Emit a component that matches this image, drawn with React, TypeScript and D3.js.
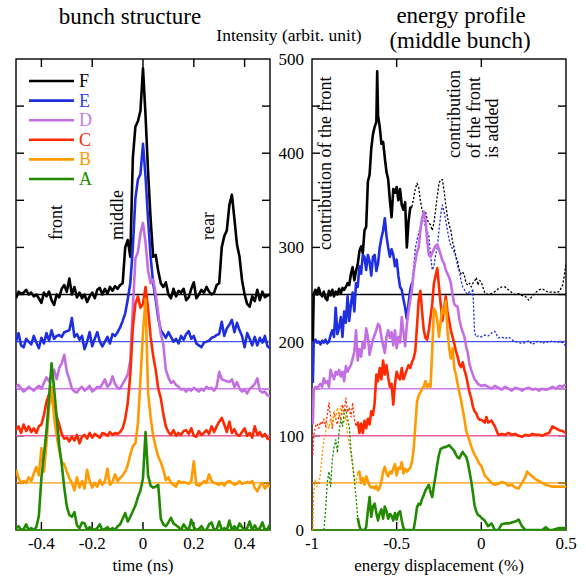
import React from 'react';
import * as d3 from 'd3';

// ---------- data ----------
const seriesNames = ['F', 'E', 'D', 'C', 'B', 'A'];
const seriesColors = ['#000000', '#1f2fe0', '#c46ee4', '#ff2a00', '#ff9a00', '#228a00'];
const legendColors = ['#000000', '#3340ee', '#c878ee', '#ff2a00', '#ff9a00', '#228a00'];
const baselineValues = [250, 200, 150, 100, 50, 0];
const baselineColors = ['#000000', '#4455ee', '#cc80ec', '#ee5fa0', '#ff9a00', '#33a000'];

// bunch structure: time grid (ns), -0.5 .. 0.5 step 0.01
const timeGrid = d3.range(101).map((i) => Math.round((-0.5 + i * 0.01) * 1000) / 1000);

const bunchF = [246, 253, 251, 252, 255, 250, 252, 248, 250, 246, 241, 252, 248, 253, 244, 239, 250, 247, 256, 260,
  253, 267, 250, 258, 247, 252, 246, 250, 242, 248, 252, 246, 255, 257, 250, 256, 251, 258, 254, 259,
  256, 260, 262, 300, 308, 290, 395, 428, 434, 445, 490, 440, 380, 330, 290, 292, 275, 262, 258, 263,
  250, 246, 256, 248, 254, 252, 256, 244, 247, 256, 263, 246, 250, 255, 252, 258, 253, 250, 252, 260,
  262, 300, 312, 318, 345, 356, 330, 303, 290, 265, 250, 240, 237, 248, 243, 255, 244, 253, 247, 249, 250];
const bunchE = [200, 209, 196, 194, 203, 200, 197, 206, 199, 193, 204, 198, 209, 201, 212, 203, 206, 207, 205, 210,
  211, 212, 225, 205, 208, 202, 206, 192, 200, 210, 195, 203, 210, 200, 195, 200, 205, 198, 208, 206,
  210, 215, 222, 230, 245, 262, 300, 352, 372, 378, 410, 375, 330, 290, 262, 245, 225, 212, 208, 204,
  210, 205, 200, 203, 198, 206, 202, 208, 211, 203, 206, 198, 196, 194, 199, 200, 201, 204, 205, 207,
  208, 221, 206, 214, 218, 223, 210, 220, 212, 206, 194, 209, 203, 196, 205, 196, 204, 199, 206, 195, 193];
const bunchD = [152, 154, 150, 147, 149, 152, 150, 148, 151, 153, 150, 156, 162, 158, 166, 170, 160, 172, 177, 186,
  168, 160, 150, 147, 146, 150, 152, 148, 150, 153, 147, 149, 152, 151, 155, 160, 152, 155, 163, 155,
  151, 150, 155, 160, 165, 180, 235, 288, 295, 315, 326, 305, 275, 262, 266, 250, 230, 208, 197, 170,
  162, 156, 158, 154, 152, 149, 150, 147, 150, 148, 151, 149, 147, 150, 148, 152, 150, 151, 148, 152,
  168, 160, 159, 158, 157, 160, 152, 157, 150, 147, 149, 145, 150, 152, 155, 161, 148, 146, 147, 143, 142];
const bunchC = [106, 110, 103, 112, 105, 110, 104, 108, 103, 110, 112, 122, 136, 144, 140, 130, 121, 112, 102, 97,
  98, 94, 99, 95, 101, 92, 99, 101, 97, 103, 98, 102, 100, 98, 103, 102, 100, 104, 101, 103,
  102, 104, 108, 118, 135, 165, 215, 240, 248, 236, 240, 258, 235, 205, 185, 170, 150, 140, 123, 110,
  104, 101, 106, 100, 103, 101, 105, 106, 102, 108, 100, 99, 105, 101, 103, 106, 102, 110, 104, 110,
  115, 119, 112, 104, 115, 103, 107, 101, 100, 104, 108, 100, 103, 98, 110, 101, 104, 99, 102, 97, 96];
const bunchB = [64, 55, 50, 52, 50, 56, 52, 60, 67, 58, 87, 62, 92, 130, 152, 120, 100, 85, 72, 70,
  62, 55, 50, 42, 56, 45, 52, 44, 64, 52, 45, 50, 46, 53, 48, 52, 65, 48, 51, 59,
  52, 55, 58, 62, 69, 80, 89, 92, 113, 160, 210, 245, 145, 120, 100, 88, 78, 72, 64, 53,
  56, 50, 48, 46, 52, 50, 51, 50, 49, 52, 73, 48, 47, 49, 52, 50, 59, 52, 50, 49,
  48, 50, 47, 51, 52, 50, 48, 49, 52, 49, 50, 51, 50, 52, 45, 41, 47, 50, 44, 48, 46];
const bunchA = [2, 4, 0, 1, 6, 0, 2, 0, 3, 15, 55, 80, 105, 140, 177, 150, 120, 90, 70, 45,
  25, 16, 14, 19, 5, 2, 8, 7, 0, 3, 1, 0, 2, 6, 0, 1, 3, 0, 2, 0,
  4, 6, 12, 18, 9, 14, 20, 26, 35, 42, 55, 104, 58, 47, 45, 46, 48, 12, 6, 4,
  8, 13, 7, 5, 3, 0, 6, 2, 0, 11, 3, 0, 1, 4, 0, 0, 6, 8, 0, 1,
  9, 0, 2, 0, 10, 0, 4, 0, 7, 3, 0, 2, 9, 0, 5, 0, 2, 8, 0, 1, 6];

// energy profile (energy displacement %, intensity) – solid: measured, dotted: front contribution added
const profileF: [number, number][] = [[-0.995, 200], [-0.99, 250], [-0.98, 255], [-0.97, 250], [-0.96, 257], [-0.95, 251], [-0.94, 248],
  [-0.93, 253], [-0.92, 246], [-0.91, 244], [-0.9, 254], [-0.89, 249], [-0.88, 255], [-0.87, 248], [-0.86, 253], [-0.85, 250],
  [-0.84, 256], [-0.83, 251], [-0.82, 257], [-0.81, 255], [-0.8, 258], [-0.79, 262], [-0.78, 260], [-0.77, 272], [-0.76, 279],
  [-0.75, 265], [-0.74, 275], [-0.73, 282], [-0.72, 296], [-0.71, 301], [-0.7, 294], [-0.69, 318], [-0.68, 322], [-0.67, 370],
  [-0.66, 377], [-0.65, 405], [-0.64, 420], [-0.63, 428], [-0.62, 433], [-0.615, 487], [-0.61, 440], [-0.6, 428], [-0.59, 410],
  [-0.58, 412], [-0.57, 395], [-0.56, 380], [-0.55, 372], [-0.54, 350], [-0.53, 332], [-0.52, 362], [-0.51, 358], [-0.5, 364],
  [-0.49, 350], [-0.48, 362], [-0.47, 345], [-0.46, 340], [-0.45, 348], [-0.44, 300], [-0.43, 327], [-0.42, 342], [-0.41, 343]];
const profileFAdded: [number, number][] = [[-0.41, 343], [-0.4, 352], [-0.39, 362], [-0.38, 368], [-0.37, 364], [-0.36, 350],
  [-0.35, 340], [-0.34, 335], [-0.33, 338], [-0.32, 330], [-0.31, 326], [-0.3, 324], [-0.29, 318], [-0.28, 326], [-0.27, 340],
  [-0.26, 355], [-0.25, 368], [-0.24, 372], [-0.23, 372], [-0.22, 360], [-0.21, 345], [-0.2, 332], [-0.19, 324], [-0.18, 318],
  [-0.17, 306], [-0.16, 299], [-0.15, 290], [-0.14, 285], [-0.13, 276], [-0.12, 272], [-0.11, 274], [-0.1, 270], [-0.09, 262],
  [-0.08, 260], [-0.07, 262], [-0.06, 258], [-0.05, 262], [-0.04, 264], [-0.03, 268], [-0.02, 260], [-0.01, 265], [0, 263],
  [0.02, 252], [0.04, 250], [0.06, 251], [0.08, 253], [0.1, 256], [0.12, 258], [0.14, 258], [0.16, 255], [0.18, 252], [0.2, 250],
  [0.22, 251], [0.24, 249], [0.26, 248], [0.28, 244], [0.3, 248], [0.32, 252], [0.34, 255], [0.36, 256], [0.38, 254], [0.4, 252],
  [0.42, 253], [0.44, 252], [0.46, 253], [0.48, 260], [0.49, 270], [0.5, 283]];
const profileE: [number, number][] = [[-0.995, 156], [-0.99, 198], [-0.98, 202], [-0.97, 199], [-0.96, 200], [-0.95, 197], [-0.94, 201],
  [-0.93, 199], [-0.92, 202], [-0.91, 198], [-0.9, 200], [-0.89, 207], [-0.88, 212], [-0.87, 205], [-0.86, 236], [-0.85, 208],
  [-0.84, 215], [-0.83, 226], [-0.82, 205], [-0.81, 232], [-0.8, 220], [-0.79, 248], [-0.78, 222], [-0.77, 240], [-0.76, 252],
  [-0.75, 232], [-0.74, 262], [-0.73, 258], [-0.72, 280], [-0.71, 272], [-0.7, 292], [-0.69, 290], [-0.68, 276], [-0.67, 292],
  [-0.66, 285], [-0.65, 270], [-0.64, 290], [-0.63, 292], [-0.62, 275], [-0.61, 283], [-0.6, 300], [-0.59, 310], [-0.58, 318],
  [-0.57, 331], [-0.56, 312], [-0.55, 300], [-0.54, 290], [-0.53, 298], [-0.52, 292], [-0.51, 280], [-0.5, 287], [-0.49, 270],
  [-0.48, 258], [-0.47, 255], [-0.46, 245], [-0.45, 236], [-0.44, 224], [-0.43, 240], [-0.42, 255], [-0.41, 262]];
const profileEAdded: [number, number][] = [[-0.41, 262], [-0.4, 278], [-0.39, 299], [-0.38, 308], [-0.37, 315], [-0.36, 322],
  [-0.35, 333], [-0.34, 330], [-0.33, 322], [-0.32, 318], [-0.31, 312], [-0.3, 292], [-0.29, 276], [-0.28, 280], [-0.27, 292],
  [-0.26, 300], [-0.25, 318], [-0.24, 335], [-0.23, 345], [-0.22, 338], [-0.21, 328], [-0.2, 318], [-0.19, 308], [-0.18, 302],
  [-0.17, 298], [-0.16, 295], [-0.15, 290], [-0.14, 280], [-0.13, 275], [-0.12, 265], [-0.11, 258], [-0.1, 255], [-0.09, 252],
  [-0.08, 250], [-0.07, 253], [-0.06, 250], [-0.05, 256], [-0.04, 210], [-0.03, 205], [-0.02, 206], [0, 205], [0.02, 207],
  [0.04, 206], [0.06, 209], [0.08, 211], [0.1, 204], [0.12, 205], [0.14, 203], [0.16, 205], [0.18, 202], [0.2, 200], [0.22, 199],
  [0.24, 198], [0.26, 199], [0.28, 201], [0.3, 197], [0.32, 199], [0.34, 201], [0.36, 198], [0.38, 200], [0.4, 199], [0.42, 201],
  [0.44, 199], [0.46, 200], [0.48, 199], [0.5, 195]];
const profileD: [number, number][] = [[-0.995, 112], [-0.99, 149], [-0.98, 152], [-0.97, 150], [-0.96, 153], [-0.95, 155], [-0.94, 152],
  [-0.93, 161], [-0.92, 156], [-0.91, 158], [-0.9, 152], [-0.89, 170], [-0.88, 164], [-0.87, 160], [-0.86, 168], [-0.85, 165],
  [-0.84, 170], [-0.83, 163], [-0.82, 168], [-0.81, 158], [-0.8, 174], [-0.79, 168], [-0.78, 172], [-0.77, 175], [-0.76, 182],
  [-0.75, 189], [-0.74, 212], [-0.73, 180], [-0.72, 192], [-0.71, 184], [-0.7, 200], [-0.69, 193], [-0.68, 214], [-0.67, 205],
  [-0.66, 186], [-0.65, 195], [-0.64, 202], [-0.63, 207], [-0.62, 212], [-0.61, 219], [-0.6, 216], [-0.59, 205], [-0.58, 196],
  [-0.57, 188], [-0.56, 205], [-0.55, 212], [-0.54, 204], [-0.53, 210], [-0.52, 196], [-0.51, 212], [-0.5, 193], [-0.49, 205],
  [-0.48, 199], [-0.47, 226], [-0.46, 210], [-0.45, 195], [-0.44, 218], [-0.43, 232], [-0.42, 244], [-0.41, 255], [-0.4, 273],
  [-0.39, 285], [-0.38, 295], [-0.37, 300], [-0.36, 318], [-0.35, 330], [-0.34, 338], [-0.33, 330], [-0.32, 308], [-0.31, 292],
  [-0.3, 290], [-0.29, 294], [-0.28, 298], [-0.27, 302], [-0.26, 303], [-0.25, 298], [-0.24, 292], [-0.23, 286], [-0.22, 283],
  [-0.21, 276], [-0.2, 272], [-0.19, 268], [-0.18, 262], [-0.17, 250], [-0.16, 240], [-0.15, 238], [-0.14, 237], [-0.13, 224],
  [-0.12, 216], [-0.11, 210], [-0.1, 205], [-0.09, 195], [-0.08, 188], [-0.07, 176], [-0.06, 170], [-0.05, 165], [-0.04, 160],
  [-0.03, 158], [-0.02, 155], [0, 153], [0.02, 154], [0.04, 152], [0.06, 150], [0.08, 153], [0.1, 151], [0.12, 149], [0.14, 152],
  [0.16, 150], [0.18, 148], [0.2, 151], [0.22, 150], [0.24, 148], [0.26, 150], [0.28, 151], [0.3, 149], [0.32, 150], [0.34, 148],
  [0.36, 150], [0.38, 149], [0.4, 150], [0.42, 152], [0.44, 150], [0.46, 153], [0.48, 152], [0.5, 155]];
const profileCAdded: [number, number][] = [[-0.995, 80], [-0.99, 100], [-0.98, 110], [-0.97, 113], [-0.96, 108], [-0.95, 115],
  [-0.94, 112], [-0.93, 118], [-0.92, 110], [-0.91, 122], [-0.9, 135], [-0.89, 120], [-0.88, 108], [-0.87, 125], [-0.86, 118],
  [-0.85, 112], [-0.84, 122], [-0.83, 118], [-0.82, 133], [-0.81, 125], [-0.8, 140], [-0.79, 125], [-0.78, 130], [-0.77, 120],
  [-0.76, 135], [-0.75, 118], [-0.74, 110], [-0.73, 115]];
const profileC: [number, number][] = [[-0.73, 115], [-0.72, 103], [-0.71, 113], [-0.7, 103], [-0.69, 116], [-0.68, 108], [-0.67, 118],
  [-0.66, 112], [-0.65, 126], [-0.64, 122], [-0.63, 135], [-0.62, 165], [-0.61, 158], [-0.6, 172], [-0.59, 160], [-0.58, 180],
  [-0.57, 165], [-0.56, 175], [-0.55, 162], [-0.54, 152], [-0.53, 155], [-0.52, 133], [-0.51, 155], [-0.5, 168], [-0.49, 162],
  [-0.48, 160], [-0.47, 172], [-0.46, 160], [-0.45, 165], [-0.44, 170], [-0.43, 175], [-0.42, 172], [-0.41, 178], [-0.4, 182],
  [-0.39, 190], [-0.38, 216], [-0.37, 244], [-0.36, 254], [-0.35, 232], [-0.34, 212], [-0.33, 204], [-0.32, 202], [-0.31, 212],
  [-0.3, 226], [-0.29, 240], [-0.28, 262], [-0.27, 270], [-0.26, 278], [-0.25, 258], [-0.24, 240], [-0.23, 222], [-0.22, 235],
  [-0.21, 248], [-0.2, 232], [-0.19, 222], [-0.18, 212], [-0.17, 205], [-0.16, 198], [-0.15, 190], [-0.14, 184], [-0.13, 176],
  [-0.12, 173], [-0.11, 178], [-0.1, 170], [-0.09, 164], [-0.08, 155], [-0.07, 146], [-0.06, 140], [-0.05, 131], [-0.04, 126],
  [-0.03, 124], [-0.02, 119], [-0.01, 117], [0, 117], [0.02, 114], [0.03, 120], [0.04, 114], [0.06, 116], [0.08, 110], [0.1, 101],
  [0.12, 102], [0.14, 101], [0.16, 103], [0.18, 101], [0.2, 102], [0.22, 100], [0.24, 99], [0.26, 101], [0.28, 100], [0.3, 102],
  [0.32, 101], [0.34, 101], [0.36, 100], [0.38, 102], [0.4, 103], [0.42, 110], [0.44, 108], [0.46, 106], [0.48, 105], [0.5, 103]];
const profileBAdded: [number, number][] = [[-0.995, 0], [-0.99, 40], [-0.98, 53], [-0.97, 46], [-0.96, 50], [-0.95, 60], [-0.94, 80],
  [-0.93, 95], [-0.92, 103], [-0.91, 113], [-0.9, 108], [-0.89, 118], [-0.88, 110], [-0.87, 125], [-0.86, 118], [-0.85, 130],
  [-0.84, 120], [-0.83, 132], [-0.82, 127], [-0.81, 115], [-0.8, 122], [-0.79, 100], [-0.78, 92], [-0.77, 80], [-0.76, 68],
  [-0.75, 55], [-0.74, 50], [-0.73, 60]];
const profileB: [number, number][] = [[-0.73, 60], [-0.72, 62], [-0.71, 50], [-0.7, 55], [-0.69, 48], [-0.68, 57], [-0.67, 52],
  [-0.66, 47], [-0.65, 45], [-0.64, 46], [-0.63, 44], [-0.62, 47], [-0.61, 42], [-0.6, 45], [-0.59, 52], [-0.58, 62], [-0.57, 67],
  [-0.56, 60], [-0.55, 57], [-0.54, 62], [-0.53, 60], [-0.52, 65], [-0.51, 70], [-0.5, 58], [-0.49, 66], [-0.48, 65], [-0.47, 72],
  [-0.46, 60], [-0.45, 65], [-0.44, 62], [-0.43, 64], [-0.42, 66], [-0.41, 72], [-0.4, 85], [-0.39, 110], [-0.38, 136],
  [-0.37, 143], [-0.36, 146], [-0.35, 150], [-0.34, 152], [-0.33, 158], [-0.32, 151], [-0.31, 155], [-0.3, 152], [-0.29, 190],
  [-0.28, 235], [-0.27, 232], [-0.26, 222], [-0.25, 205], [-0.24, 222], [-0.23, 235], [-0.22, 230], [-0.21, 243], [-0.2, 212],
  [-0.19, 193], [-0.18, 182], [-0.17, 193], [-0.16, 172], [-0.15, 165], [-0.14, 155], [-0.13, 146], [-0.12, 138], [-0.11, 128],
  [-0.1, 118], [-0.09, 106], [-0.08, 100], [-0.07, 95], [-0.06, 89], [-0.05, 84], [-0.04, 80], [-0.03, 77], [-0.02, 73],
  [-0.01, 70], [0, 68], [0.02, 58], [0.04, 54], [0.06, 50], [0.08, 48], [0.1, 49], [0.12, 51], [0.14, 50], [0.16, 47], [0.18, 48],
  [0.2, 45], [0.22, 44], [0.24, 50], [0.26, 56], [0.27, 62], [0.28, 60], [0.3, 57], [0.32, 54], [0.34, 52], [0.36, 50], [0.38, 48],
  [0.4, 47], [0.42, 46], [0.44, 46], [0.46, 46], [0.48, 46], [0.5, 46]];
const profileAAdded: [number, number][] = [[-0.93, 0], [-0.92, 20], [-0.91, 50], [-0.9, 62], [-0.89, 46], [-0.88, 75], [-0.87, 88],
  [-0.86, 96], [-0.85, 82], [-0.84, 104], [-0.83, 118], [-0.82, 110], [-0.81, 124], [-0.8, 128], [-0.79, 118], [-0.78, 110],
  [-0.77, 85], [-0.76, 70], [-0.75, 53], [-0.74, 35], [-0.73, 13]];
const profileA: [number, number][] = [[-0.73, 13], [-0.72, 4], [-0.71, 0], [-0.7, 0], [-0.69, 0], [-0.68, 3], [-0.67, 20], [-0.66, 35],
  [-0.65, 14], [-0.64, 25], [-0.63, 28], [-0.62, 18], [-0.61, 10], [-0.6, 18], [-0.59, 22], [-0.58, 12], [-0.57, 25], [-0.56, 20],
  [-0.55, 12], [-0.54, 17], [-0.53, 15], [-0.52, 10], [-0.51, 18], [-0.5, 11], [-0.49, 18], [-0.48, 20], [-0.47, 10], [-0.46, 2],
  [-0.45, 0], [-0.44, 0], [-0.43, 0], [-0.42, 0], [-0.41, 0], [-0.4, 0], [-0.39, 11], [-0.38, 24], [-0.37, 28], [-0.36, 27],
  [-0.35, 33], [-0.34, 37], [-0.33, 42], [-0.32, 45], [-0.31, 48], [-0.3, 40], [-0.29, 35], [-0.28, 47], [-0.27, 58], [-0.26, 70],
  [-0.25, 80], [-0.24, 86], [-0.23, 87], [-0.22, 88], [-0.21, 88], [-0.2, 89], [-0.19, 90], [-0.18, 88], [-0.17, 86], [-0.16, 84],
  [-0.15, 80], [-0.14, 77], [-0.13, 76], [-0.12, 80], [-0.11, 83], [-0.1, 80], [-0.09, 78], [-0.08, 72], [-0.07, 62], [-0.06, 52],
  [-0.05, 40], [-0.04, 26], [-0.03, 20], [-0.02, 16], [-0.01, 15], [0, 13], [0.02, 10], [0.04, 4], [0.06, 7], [0.08, 0], [0.1, 0],
  [0.12, 6], [0.14, 7], [0.16, 7], [0.18, 8], [0.2, 9], [0.22, 11], [0.24, 4], [0.26, 0], [0.28, 0], [0.3, 0], [0.32, 0],
  [0.34, 0], [0.36, 0], [0.38, 3], [0.4, 0], [0.42, 0], [0.44, 1], [0.46, 2], [0.48, 2], [0.5, 2]];

const timeTicks = [-0.4, -0.2, 0, 0.2, 0.4];
const timeTickLabels = ['-0.4', '-0.2', '0', '0.2', '0.4'];
const energyTicks = [-1, -0.5, 0, 0.5];
const energyTickLabels = ['-1', '-0.5', '0', '0.5'];
const intensityTicks = [0, 100, 200, 300, 400, 500];
const intensityMinorTicks = [50, 100, 150, 200, 250, 300, 350, 400, 450];

// ---------- layout ----------
const W = 586;
const H = 576;
const FONT = '"Liberation Serif", "Times New Roman", Times, serif';
const top = 59;
const bottom = 530;
const leftPanel = { x0: 16, x1: 270 };
const rightPanel = { x0: 312, x1: 566 };

const y = d3.scaleLinear().domain([0, 500]).range([bottom, top]);
const xT = d3.scaleLinear().domain([-0.5, 0.5]).range([leftPanel.x0, leftPanel.x1]);
const xE = d3.scaleLinear().domain([-1, 0.5]).range([rightPanel.x0, rightPanel.x1]);

const bunchSeries = [bunchF, bunchE, bunchD, bunchC, bunchB, bunchA];
const profileSolid = [profileF, profileE, profileD, profileC, profileB, profileA];
const profileDotted: ([number, number][] | null)[] = [profileFAdded, profileEAdded, null, profileCAdded, profileBAdded, profileAAdded];

const lineT = d3.line<number>().x((_, i) => xT(timeGrid[i])).y((d) => y(d));
const lineE = d3.line<[number, number]>().x((d) => xE(d[0])).y((d) => y(d[1]));

function Frame({ xs, xTicks, showXTicks }: { xs: d3.ScaleLinear<number, number>; xTicks: number[]; showXTicks: (v: number) => boolean; }) {
  const [x0, x1] = xs.range();
  const tl = 8;
  return (
    <g stroke="#000" strokeWidth={1.4} fill="none">
      <rect x={x0} y={top} width={x1 - x0} height={bottom - top} />
      {intensityMinorTicks.map((v) => (
        <g key={v}>
          <line x1={x0} x2={x0 + tl} y1={y(v)} y2={y(v)} />
          <line x1={x1} x2={x1 - tl} y1={y(v)} y2={y(v)} />
        </g>
      ))}
      {xTicks.filter(showXTicks).map((v) => (
        <g key={v}>
          <line x1={xs(v)} x2={xs(v)} y1={top} y2={top + tl} />
          <line x1={xs(v)} x2={xs(v)} y1={bottom} y2={bottom - tl} />
        </g>
      ))}
    </g>
  );
}

export default function App() {
  return (
    <svg width={W} height={H} style={{ position: 'absolute', left: 0, top: 0, background: '#fff' }} fontFamily={FONT}>
      <defs>
        <clipPath id="clipL"><rect x={leftPanel.x0} y={top} width={leftPanel.x1 - leftPanel.x0} height={bottom - top} /></clipPath>
        <clipPath id="clipR"><rect x={rightPanel.x0} y={top} width={rightPanel.x1 - rightPanel.x0} height={bottom - top} /></clipPath>
      </defs>
      <rect x={0} y={0} width={W} height={H} fill="#fff" />

      {/* titles */}
      <text x={130} y={24} fontSize={23} textAnchor="middle">bunch structure</text>
      <text x={461} y={23} fontSize={23} textAnchor="middle">energy profile</text>
      <text x={460} y={48} fontSize={23} textAnchor="middle">(middle bunch)</text>
      <text x={289} y={41} fontSize={17.5} textAnchor="middle">Intensity (arbit. unit)</text>

      <Frame xs={xT} xTicks={timeTicks} showXTicks={() => true} />
      <Frame xs={xE} xTicks={energyTicks} showXTicks={(v) => v > -1 && v < 0.5} />

      {/* baselines */}
      {baselineValues.map((b, i) => (
        <g key={b} stroke={baselineColors[i]} strokeWidth={1.4}>
          <line x1={leftPanel.x0} x2={leftPanel.x1} y1={y(b)} y2={y(b)} />
          <line x1={rightPanel.x0} x2={rightPanel.x1} y1={y(b)} y2={y(b)} />
        </g>
      ))}

      {/* bunch structure */}
      <g clipPath="url(#clipL)" fill="none" strokeLinejoin="round">
        {bunchSeries.map((s, i) => (
          <path key={seriesNames[i]} d={lineT(s) || ''} stroke={seriesColors[i]} strokeWidth={2.6} />
        ))}
      </g>

      {/* energy profile */}
      <g clipPath="url(#clipR)" fill="none" strokeLinejoin="round">
        {profileDotted.map((s, i) => s ? (
          <path key={'d' + seriesNames[i]} d={lineE(s) || ''} stroke={seriesColors[i]} strokeWidth={1.3} strokeDasharray="2.2,1.8" />
        ) : null)}
        {profileSolid.map((s, i) => (
          <path key={'s' + seriesNames[i]} d={lineE(s) || ''} stroke={seriesColors[i]} strokeWidth={2.6} />
        ))}
      </g>

      {/* legend */}
      {seriesNames.map((n, i) => {
        const ly = 81 + i * 19.6;
        return (
          <g key={n}>
            <line x1={29} x2={74} y1={ly} y2={ly} stroke={seriesColors[i]} strokeWidth={2.6} />
            <text x={79} y={ly + 6} fontSize={18} fill={legendColors[i]}>{n}</text>
          </g>
        );
      })}

      {/* annotations */}
      <text transform="translate(62,240) rotate(-90)" fontSize={18}>front</text>
      <text transform="translate(123,240) rotate(-90)" fontSize={18}>middle</text>
      <text transform="translate(214,240) rotate(-90)" fontSize={18}>rear</text>
      <text transform="translate(331,250) rotate(-90)" fontSize={18}>contribution of the front</text>
      <text transform="translate(460,158) rotate(-90)" fontSize={18}>contribution</text>
      <text transform="translate(480,158) rotate(-90)" fontSize={18}>of the front</text>
      <text transform="translate(498,158) rotate(-90)" fontSize={18}>is added</text>

      {/* tick labels */}
      {timeTicks.map((v, i) => (
        <text key={v} x={xT(v)} y={549} fontSize={17} textAnchor="middle">{timeTickLabels[i]}</text>
      ))}
      {energyTicks.map((v, i) => (
        <text key={v} x={xE(v)} y={549} fontSize={17} textAnchor="middle">{energyTickLabels[i]}</text>
      ))}
      {intensityTicks.map((v) => (
        <text key={v} x={304} y={y(v) + 6} fontSize={17} textAnchor="end">{v}</text>
      ))}
      <text x={xT(0)} y={571} fontSize={17} textAnchor="middle">time (ns)</text>
      <text x={xE(-0.25)} y={571} fontSize={17} textAnchor="middle">energy displacement (%)</text>
    </svg>
  );
}
